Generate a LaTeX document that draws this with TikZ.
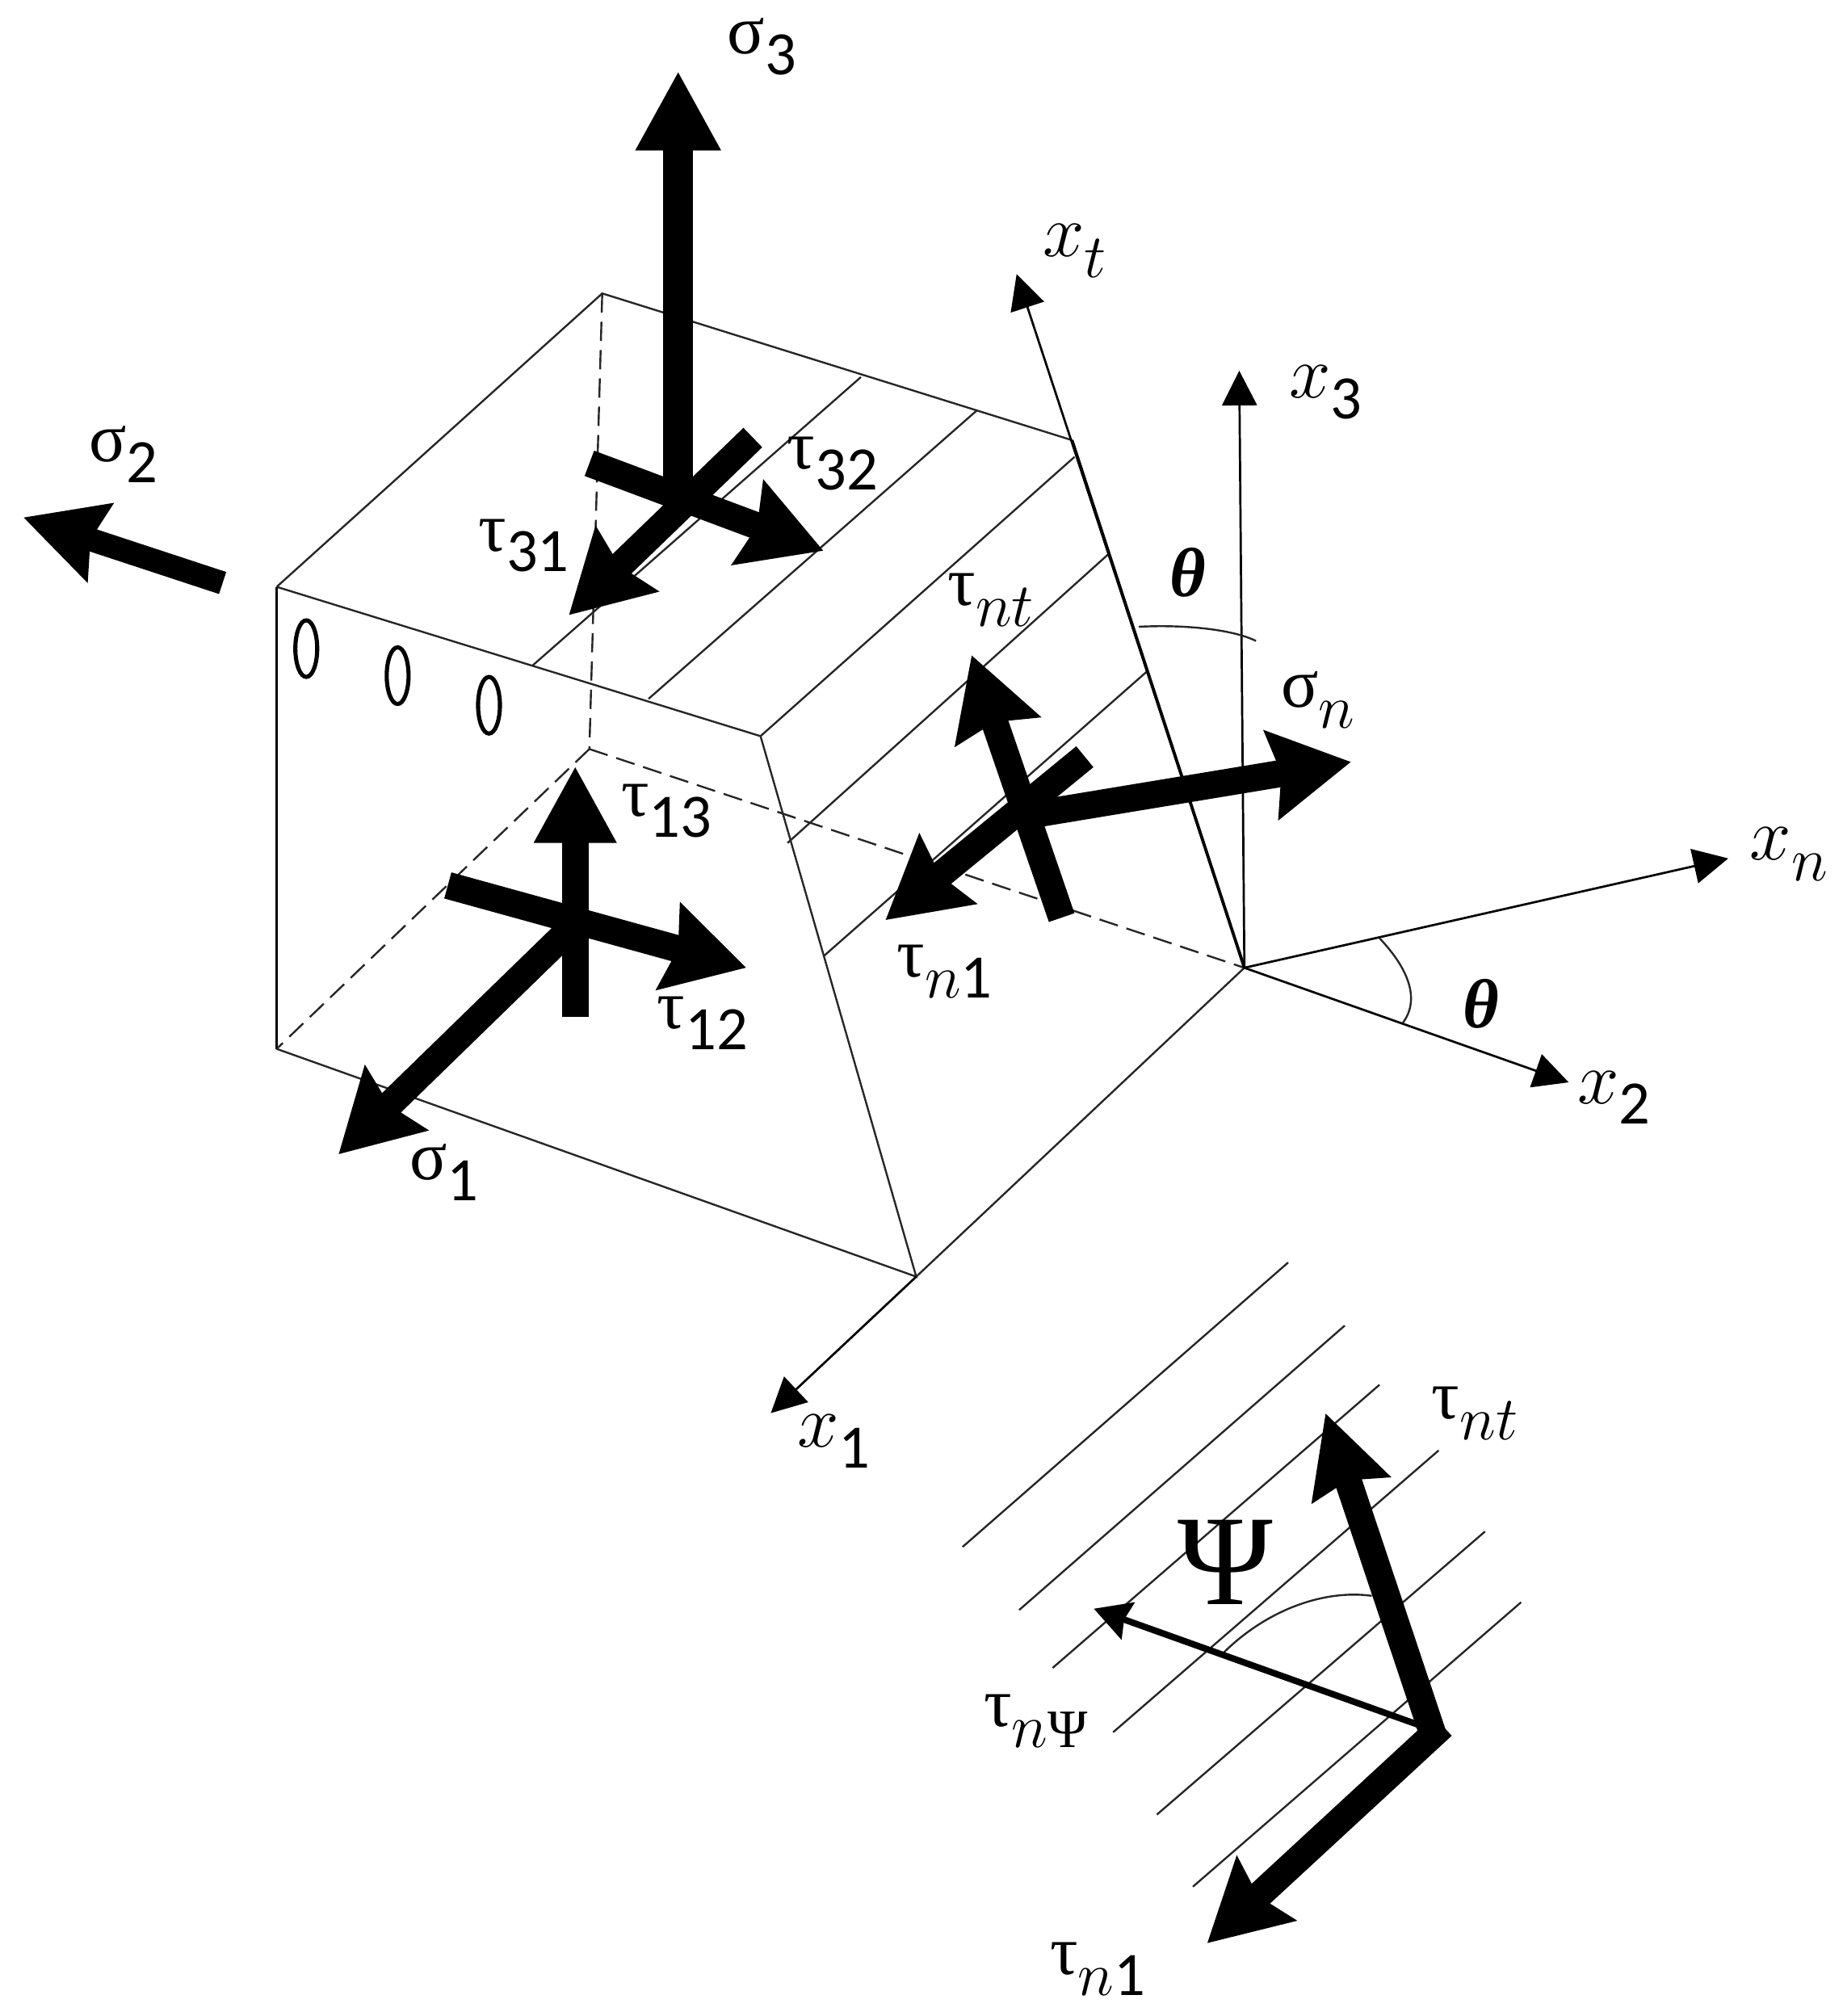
\RequirePackage{fix-cm}
\documentclass[tikz,border=0pt]{standalone}
\usepackage{fontspec}
\setmainfont{Liberation Serif}
\newfontfamily\subf{Carlito}
\usetikzlibrary{arrows.meta,shapes.geometric}
\newcommand{\tsub}[2]{#1\raisebox{-0.3em}{\fontsize{48}{50}\selectfont #2}}
\newcommand{\xvar}{{\fontsize{58}{60}\selectfont$x$}}
\tikzset{
  edge/.style={line width=1.5pt,black!85},
  hid/.style={line width=1.5pt,black!85,dash pattern=on 15pt off 7pt},
  axisline/.style={line width=1.7pt,-{Triangle[length=27pt,width=27pt]}},
  fatB/.style={line width=21pt,-{Stealth[length=62pt,width=68pt,inset=7pt]}},
  lab/.style={inner sep=0pt,font=\fontsize{54}{56}\selectfont},
  hole/.style={draw,line width=3.2pt,ellipse,minimum width=17pt,minimum height=44pt,inner sep=0pt},
}
\begin{document}
\begin{tikzpicture}[x=1pt,y=-1pt]
\useasboundingbox (0,0) rectangle (1431.6,1566.5);
% corners
\coordinate (A) at (468,228);
\coordinate (B) at (215,456);
\coordinate (C) at (591,572);
\coordinate (D) at (833,342);
\coordinate (E) at (215,815);
\coordinate (F) at (712,992);
\coordinate (O) at (967,752);
\coordinate (H) at (458,582);
% axes ends
\coordinate (xt) at (790,213);
\coordinate (xthree) at (963,288);
\coordinate (xn) at (1343,667);
\coordinate (xtwo) at (1219,841);
\coordinate (xone) at (599,1098);
% box
\draw[edge] (B)--(A)--(D);
\draw[edge] (C)--(F)--(E);
\draw[edge] (B)--(C);
\draw[line width=2pt] (B)--(E);
\draw[edge] (F)--(O);
\draw[edge] (C)--(835,355);
\draw[hid] (A)--(H);
\draw[hid] (H)--(O);
\draw[hid] (H)--(E);
% hatching
\foreach \a/\b/\c/\d in {414/517/669/293, 504/543/759/319, 612/655/862/430, 640/743/891/522}
  \draw[edge] (\a,\b)--(\c,\d);
% axes
\draw[axisline] (O)--(xt);
\draw[line width=2.4pt] (O)--(D);
\draw[axisline] (O)--(xthree);
\draw[axisline] (O)--(xn);
\draw[axisline] (O)--(xtwo);
\draw[axisline] (F)--(xone);
% angle arcs
\draw[edge] (885,487) .. controls (925,485) and (960,490) .. (976,498);
\draw[edge] (1072,729) .. controls (1092,750) and (1105,775) .. (1090,795);
% holes
\node[hole] (h1) at (238,504) {};
\node[hole] (h2) at (309,525) {};
\node[hole] (h3) at (380,548) {};
% force arrows
\coordinate (s3a) at (527,385); \coordinate (s3b) at (527,55);
\draw[line width=23pt,-{Triangle[length=62pt,width=62pt]}] (s3a)--(s3b);
\coordinate (s2a) at (173,453); \coordinate (s2b) at (18,402);
\draw[line width=18pt,-{Stealth[length=62pt,width=62pt,inset=7pt]}] (s2a)--(s2b);
\coordinate (t32a) at (458,360); \coordinate (t32b) at (640,428);
\draw[fatB] (t32a)--(t32b);
\coordinate (t31a) at (585,340); \coordinate (t31b) at (442,478);
\draw[fatB] (t31a)--(t31b);
\coordinate (t13a) at (447,790); \coordinate (t13b) at (447,595);
\draw[line width=21pt,-{Triangle[length=60pt,width=60pt]}] (t13a)--(t13b);
\coordinate (t12a) at (348,688); \coordinate (t12b) at (580,752);
\draw[fatB] (t12a)--(t12b);
\coordinate (s1a) at (447,718); \coordinate (s1b) at (263,897);
\draw[fatB] (s1a)--(s1b);
\coordinate (tnta) at (825,713); \coordinate (tntb) at (755,509);
\draw[fatB] (tnta)--(tntb);
\coordinate (tn1a) at (843,588); \coordinate (tn1b) at (688,715);
\draw[fatB] (tn1a)--(tn1b);
\coordinate (sna) at (790,635); \coordinate (snb) at (1050,592);
\draw[fatB] (sna)--(snb);
% labels
\node[lab] (ls3) at (592,36) {\tsub{σ}{\subf 3}};
\node[lab] (ls2) at (96,353) {\tsub{σ}{\subf 2}};
\node[lab] (lt32) at (647,360) {\tsub{τ}{\subf 32}};
\node[lab] (lt31) at (407,424) {\tsub{τ}{\subf 31}};
\node[lab] (lt13) at (518,630) {\tsub{τ}{\subf 13}};
\node[lab] (lt12) at (546,795) {\tsub{τ}{\subf 12}};
\node[lab] (ls1) at (345,911) {\tsub{σ}{\subf 1}};
\node[lab] (ltnt) at (770,466) {\tsub{τ}{$nt$}};
\node[lab] (ltn1) at (734,755) {\tsub{τ}{$n$\subf 1}};
\node[lab] (lsn) at (1024,544) {\tsub{σ}{$n$}};
\node[lab] (lxt) at (835,195) {\tsub{\xvar}{$t$}};
\node[lab] (lx3) at (1030,305) {\tsub{\xvar}{\subf 3}};
\node[lab] (lxn) at (1390,664) {\tsub{\xvar}{$n$}};
\node[lab] (lx2) at (1254,853) {\tsub{\xvar}{\subf 2}};
\node[lab] (lx1) at (648,1120) {\tsub{\xvar}{\subf 1}};
\node[lab] (th1) at (923,445) {\bfseries\itshape θ};
\node[lab] (th2) at (1151,780) {\bfseries\itshape θ};
% lower detail
\foreach \a/\b/\c/\d in {748/1202/1001/981, 792/1251/1045/1030, 818/1296/1072/1076, 865/1346/1118/1127, 899/1410/1154/1190, 927/1466/1182/1245}
  \draw[edge] (\a,\b)--(\c,\d);
\draw[edge] (950,1285) .. controls (985,1250) and (1030,1235) .. (1066,1240);
\coordinate (P) at (1110,1343);
\coordinate (tpsi) at (850,1250);
\coordinate (ttop) at (1030,1098);
\coordinate (tbot) at (938,1510);
\draw[line width=5pt,-{Stealth[length=28pt,width=30pt,inset=3pt]}] (P)--(tpsi);
\draw[line width=21pt,-{Stealth[length=62pt,width=62pt,inset=7pt]}] (1114,1349)--(ttop);
\draw[line width=21pt,-{Stealth[length=62pt,width=66pt,inset=8pt]}] (1121,1341)--(tbot);
\node[lab] (ltnt2) at (1146,1098) {\tsub{τ}{$nt$}};
\node[lab] (ltp) at (805,1337) {\tsub{τ}{$n$\fontsize{42}{44}\selectfont Ψ}};
\node[lab] (ltn12) at (853,1530) {\tsub{τ}{$n$\subf 1}};
\node[inner sep=0pt,font=\fontsize{100}{102}\selectfont] (psi) at (952,1214) {Ψ};
\end{tikzpicture}
\end{document}
